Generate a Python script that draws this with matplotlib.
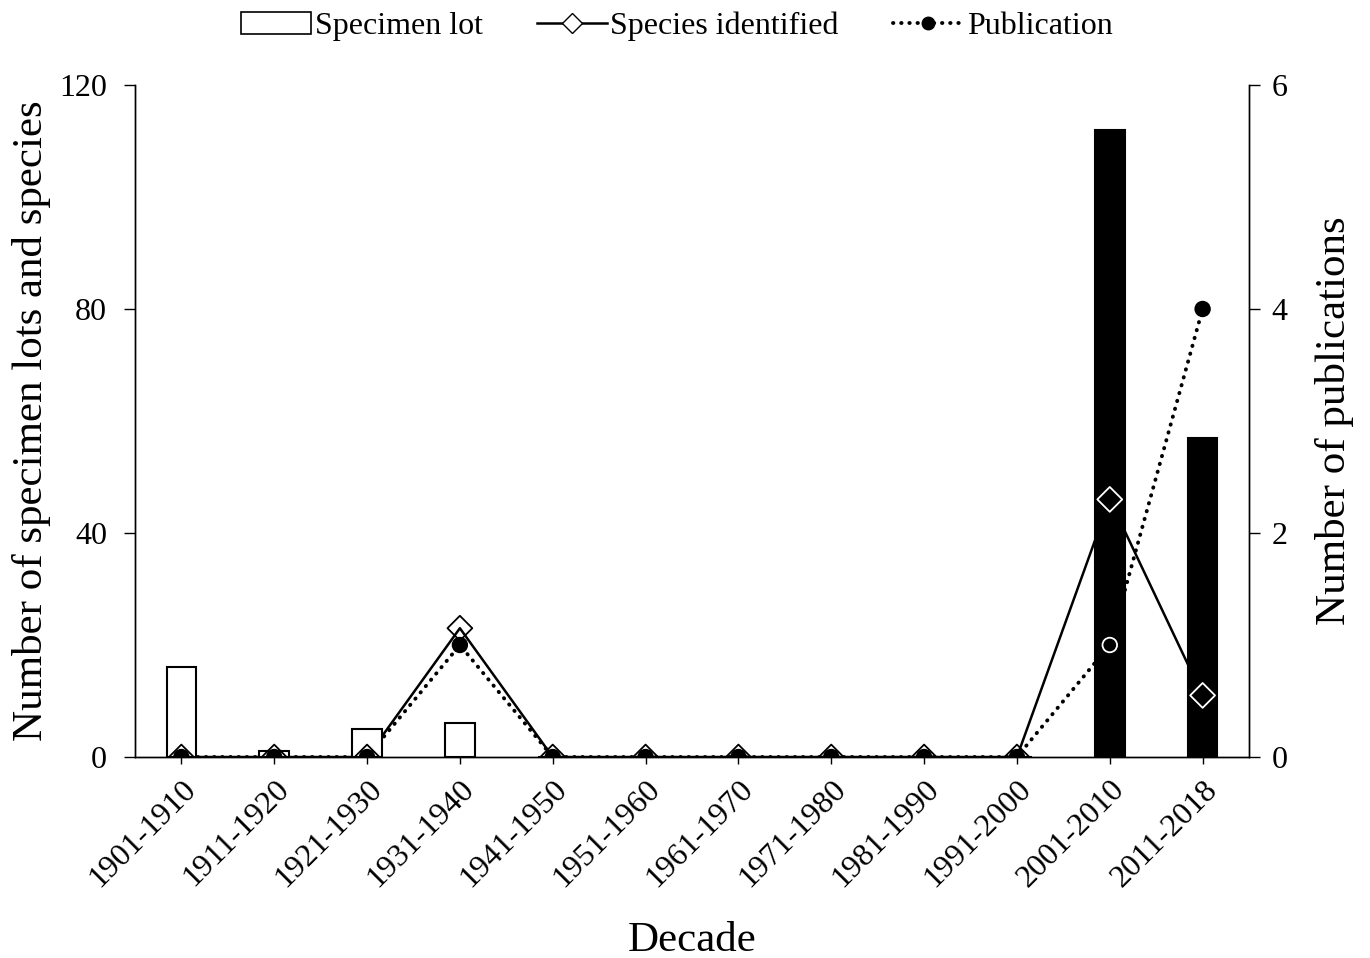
import numpy as np
import matplotlib.pyplot as plt
from matplotlib.patches import Patch
from matplotlib.lines import Line2D

plt.rcParams['font.family'] = ['Liberation Serif', 'DejaVu Serif']

decades = ["1901-1910", "1911-1920", "1921-1930", "1931-1940", "1941-1950",
           "1951-1960", "1961-1970", "1971-1980", "1981-1990", "1991-2000",
           "2001-2010", "2011-2018"]
specimen_lots = [16, 1, 5, 6, 0, 0, 0, 0, 0, 0, 112, 57]
species = [0, 0, 0, 23, 0, 0, 0, 0, 0, 0, 46, 11]
publications = [0, 0, 0, 1, 0, 0, 0, 0, 0, 0, 1, 4]
dark_bar = [False] * 10 + [True, True]

x = np.arange(len(decades))
dots = (0, (0.1, 2.0))

fig = plt.figure(figsize=(13.7, 9.58), dpi=100)
ax = fig.add_axes([0.0985, 0.2098, 0.8132, 0.7015])
ax2 = ax.twinx()
ax.set_zorder(ax2.get_zorder() + 1)
ax.patch.set_visible(False)

ax.set_xlim(-0.5, len(decades) - 0.5)
ax.set_ylim(0, 120)
ax2.set_ylim(0, 6)

# lines sit under the bars
ax.plot(x, species, color='black', lw=1.8, zorder=1)
ax.plot(x, publications, color='black', lw=2.8, ls=dots,
        dash_capstyle='round', transform=ax2.transData, zorder=1)

face = ['black' if d else 'white' for d in dark_bar]
ax.bar(x, specimen_lots, width=0.32, color=face, edgecolor='black',
       linewidth=1.5, zorder=2)

# markers on top; white outline where they sit on a black bar
sp_edge = ['white' if d else 'black' for d in dark_bar]
ax.scatter(x, species, marker='D', s=160, facecolors='none',
           edgecolors=sp_edge, linewidths=1.3, zorder=3)
pub_edge = ['white' if (d and p * 20 < s) else 'black'
            for d, p, s in zip(dark_bar, publications, specimen_lots)]
ax.scatter(x, publications, marker='o', s=110, facecolors='black',
           edgecolors=pub_edge, linewidths=1.3, zorder=4,
           transform=ax2.transData)

ax.set_xticks(x)
ax.set_xticklabels(decades, rotation=45, ha='right', rotation_mode='anchor',
                   fontsize=23)
ax.set_yticks([0, 40, 80, 120])
ax2.set_yticks([0, 2, 4, 6])
ax.tick_params(axis='y', labelsize=23, length=8, width=1, direction='out', pad=12)
ax.tick_params(axis='x', length=5, width=1, direction='out', pad=8)
ax2.tick_params(axis='y', labelsize=23, length=8, width=1, direction='out', pad=8)

for a in (ax, ax2):
    a.spines['top'].set_visible(False)
    for s in a.spines.values():
        s.set_linewidth(1.0)

ax.set_xlabel("Decade", fontsize=31, labelpad=20)
ax.set_ylabel("Number of specimen lots and species", fontsize=31, labelpad=6)
ax2.set_ylabel("Number of publications", fontsize=31, labelpad=20)

handles = [
    Patch(facecolor='white', edgecolor='black', linewidth=1.2),
    Line2D([], [], color='black', lw=1.8, marker='D', markersize=10,
           markerfacecolor='white', markeredgecolor='black'),
    Line2D([], [], color='black', lw=2.8, ls=dots, dash_capstyle='round',
           marker='o', markersize=9, markerfacecolor='black'),
]
fig.legend(handles, ["Specimen lot", "Species identified", "Publication"],
           loc='upper center', bbox_to_anchor=(0.494, 1.018), ncol=3,
           frameon=False, fontsize=23, handlelength=2.2, handletextpad=0.1,
           columnspacing=1.7)

fig.savefig("out.png", dpi=100)
